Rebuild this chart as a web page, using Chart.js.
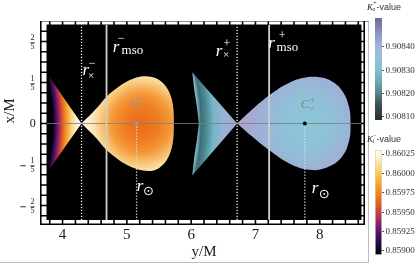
<!DOCTYPE html>
<html>
<head>
<meta charset="utf-8">
<script src="https://cdn.jsdelivr.net/npm/chart.js@4.4.0/dist/chart.umd.min.js"></script>
<style>
html, body { margin: 0; padding: 0; background: #fff; }
#wrap { position: relative; width: 415px; height: 265px; overflow: hidden; }
canvas { position: absolute; }
</style>
</head>
<body>
<div id="wrap">
<canvas id="main" width="370" height="265" style="left:0;top:0"></canvas>
<canvas id="barOuter" width="49" height="130" style="left:366px;top:0"></canvas>
<canvas id="barInner" width="49" height="133" style="left:366px;top:132px"></canvas>
</div>
<script>
// axes
var xRange = [3.75, 8.65];
var yRange = [-0.471, 0.483];
var xTicks = [4, 5, 6, 7, 8];
var yTicks = [-0.4, -0.2, 0, 0.2, 0.4];
var yTickText = ['-2/5', '-1/5', '0', '1/5', '2/5'];

// inner torus (K_i^-): crescent left of the cusp + main lobe
var innerWedgeX = [4.295, 4.04, 3.787, 3.82, 3.853, 3.865, 3.853, 3.82, 3.787, 4.04, 4.295];
var innerWedgeY = [0, 0.115, 0.232, 0.15, 0.07, 0, -0.07, -0.15, -0.227, -0.113, 0];
var innerLobeX = [4.295, 4.529, 4.684, 4.84, 4.995, 5.202, 5.409, 5.565, 5.667, 5.72, 5.731,
                  5.72, 5.667, 5.565, 5.43, 5.25, 5.02, 4.85, 4.684, 4.529, 4.295];
var innerLobeY = [0, 0.074, 0.131, 0.172, 0.204, 0.228, 0.225, 0.196, 0.147, 0.082, 0,
                  -0.082, -0.15, -0.2, -0.228, -0.23, -0.205, -0.172, -0.13, -0.073, 0];

// outer torus (K_o^+)
var outerWedgeX = [6.715, 6.366, 6.017, 6.05, 6.09, 6.12, 6.09, 6.05, 6.017, 6.366, 6.715];
var outerWedgeY = [0, 0.125, 0.25, 0.16, 0.08, 0, -0.08, -0.16, -0.254, -0.127, 0];
var outerLobeX = [6.715, 6.949, 7.212, 7.473, 7.734, 7.997, 8.205, 8.362, 8.457, 8.479,
                  8.457, 8.337, 8.101, 7.84, 7.526, 7.212, 6.949, 6.715];
var outerLobeY = [0, 0.068, 0.136, 0.19, 0.222, 0.226, 0.203, 0.154, 0.08, 0,
                  -0.084, -0.166, -0.216, -0.226, -0.195, -0.13, -0.064, 0];

// special radii [inner, outer]
var rCross = [4.295, 6.715];
var rMso = [4.684, 7.213];
var rCenter = [5.151, 7.768];

// colour bars
var kOuterRange = [0.908086, 0.908524];
var kOuterTicks = [0.9081, 0.9082, 0.9083, 0.9084];
var kInnerRange = [0.858948, 0.860302];
var kInnerTicks = [0.859, 0.85925, 0.8595, 0.85975, 0.86, 0.86025];

var SERIF = '"Liberation Serif", "DejaVu Serif", serif';

function pts(xs, ys) {
    return xs.map(function (x, i) { return {x: x, y: ys[i]}; });
}

function addStops(g, stops) {
    stops.forEach(function (s) { g.addColorStop(s[0], s[1]); });
    return g;
}

// radial shading round a lobe centre
function lobeFill(cx, dx, radius, stops) {
    return function (c) {
        var ch = c.chart;
        if (!ch.chartArea) return 'transparent';
        var px = ch.scales.x.getPixelForValue(cx) + dx;
        var py = ch.scales.y.getPixelForValue(0);
        return addStops(ch.ctx.createRadialGradient(px, py, 0, px, py, radius), stops);
    };
}

// crescent: rings centred far to the left so bands follow the concave edge
function wedgeFill(edgeX, cuspX, stops) {
    return function (c) {
        var ch = c.chart;
        if (!ch.chartArea) return 'transparent';
        var e = ch.scales.x.getPixelForValue(edgeX);
        var k = ch.scales.x.getPixelForValue(cuspX);
        var py = ch.scales.y.getPixelForValue(0);
        var R = 220, cx = e - R;
        return addStops(ch.ctx.createRadialGradient(cx, py, R - 1, cx, py, k - cx), stops);
    };
}

function shape(xs, ys, fillFn, tension) {
    return {
        data: pts(xs, ys), fill: 'shape', backgroundColor: fillFn,
        borderColor: 'rgba(0,0,0,0)', borderWidth: 1, tension: tension, order: 10
    };
}

function vline(x, y0, y1, color, width, dash) {
    return {
        data: [{x: x, y: y0}, {x: x, y: y1}], borderColor: color, borderWidth: width,
        borderDash: dash, fill: false, order: 3
    };
}

var datasets = [
    shape(innerWedgeX, innerWedgeY, wedgeFill(innerWedgeX[5], rCross[0], [
        [0, '#12041e'], [0.1, '#3c0d5c'], [0.2, '#8a2266'], [0.3, '#d24636'], [0.4, '#ee7a1e'],
        [0.52, '#f6aa3a'], [0.66, '#fad684'], [0.82, '#fdf0cc'], [1, '#fffbf2']]), 0),
    shape(innerLobeX, innerLobeY, lobeFill(rCenter[0], 5, 60, [
        [0, '#ea6a1a'], [0.3, '#ef7e22'], [0.5, '#f49a3a'], [0.65, '#f8c270'],
        [0.8, '#fce4b4'], [1, '#fffbf0']]), 0.35),
    shape(outerWedgeX, outerWedgeY, wedgeFill(outerWedgeX[5], rCross[1], [
        [0, '#7ab8c8'], [0.08, '#3e6c74'], [0.22, '#4c8a94'], [0.4, '#74b6c6'],
        [0.65, '#96b4d6'], [1, '#a8a8d2']]), 0),
    shape(outerLobeX, outerLobeY, lobeFill(rCenter[1], 2, 60, [
        [0, '#8ac6d8'], [0.45, '#90c0d8'], [0.75, '#9cb2d6'], [1, '#aaa8d2']]), 0.4),
    Object.assign(vline(0, 0, 0, 'rgba(125,125,125,0.8)', 1.2, []),
        {data: [{x: xRange[0], y: 0}, {x: xRange[1], y: 0}], order: 5}),
    vline(rCross[0], yRange[0], yRange[1], '#f4f4f4', 1.3, [1.2, 1.8]),
    vline(rCross[1], yRange[0], yRange[1], '#f4f4f4', 1.3, [1.2, 1.8]),
    vline(rMso[0], yRange[0], yRange[1], '#cfcfcf', 1.8, []),
    vline(rMso[1], yRange[0], yRange[1], '#cfcfcf', 1.8, []),
    vline(rCenter[0], 0, yRange[0], '#dcdcdc', 1.3, [1.2, 1.8]),
    vline(rCenter[1], 0, yRange[0], '#dcdcdc', 1.3, [1.2, 1.8]),
    {
        data: [{x: rCenter[0], y: 0}, {x: rCenter[1], y: 0}], showLine: false,
        pointRadius: 2, pointBorderWidth: 0, pointBackgroundColor: ['#8a9bb8', '#050505'], order: 1
    }
];

function txt(c, s, x, y, font, color, align, base) {
    c.font = font;
    c.fillStyle = color;
    c.textAlign = align || 'left';
    c.textBaseline = base || 'alphabetic';
    c.fillText(s, x, y);
}

var framePlugin = {
    id: 'frame',
    beforeDraw: function (ch) {
        var a = ch.chartArea, c = ch.ctx;
        c.save();
        c.fillStyle = '#000';
        c.fillRect(a.left, a.top, a.right - a.left, a.bottom - a.top);
        c.restore();
    },
    afterDraw: function (ch) {
        var c = ch.ctx, a = ch.chartArea, X = ch.scales.x, Y = ch.scales.y;
        var i, p;
        c.save();
        // figure border
        c.strokeStyle = '#bdbdbd';
        c.lineWidth = 1;
        c.beginPath();
        c.moveTo(368.5, a.top - 3.5); c.lineTo(368.5, 262.5); c.lineTo(0, 262.5);
        c.stroke();
        // frame
        c.strokeStyle = '#8a8a8a';
        c.lineWidth = 1.2;
        c.beginPath(); c.moveTo(a.left - 6.5, a.top - 3); c.lineTo(368.5, a.top - 3); c.stroke();
        c.strokeStyle = '#000';
        c.lineWidth = 1.6;
        c.beginPath();
        c.moveTo(a.left - 5.7, a.top - 3.5); c.lineTo(a.left - 5.7, a.bottom + 4.2);
        c.lineTo(a.right + 2.7, a.bottom + 4.2); c.lineTo(a.right + 2.7, a.top - 3.5);
        c.stroke();
        // tick marks across the white gap
        c.beginPath();
        for (i = 0; i < 25; i++) {
            p = X.getPixelForValue(3.8 + i * 0.2);
            if (p > a.right) break;
            c.moveTo(p, a.top - 3); c.lineTo(p, a.top + 0.5);
            c.moveTo(p, a.bottom - 0.5); c.lineTo(p, a.bottom + 4.2);
        }
        for (i = 0; i < 19; i++) {
            p = Y.getPixelForValue(-0.45 + i * 0.05);
            c.moveTo(a.left - 5.7, p); c.lineTo(a.left + 0.5, p);
            c.moveTo(a.right - 0.5, p); c.lineTo(a.right + 2.7, p);
        }
        c.stroke();
        // fraction tick labels on the y axis
        yTicks.forEach(function (v, k) {
            var t = Y.getPixelForValue(v), s = yTickText[k], neg = s.charAt(0) === '-';
            var body = neg ? s.slice(1) : s;
            if (body.indexOf('/') < 0) {
                txt(c, body, 32.7, t + 0.5, '12px ' + SERIF, '#1a1a1a', 'center', 'middle');
                return;
            }
            var f = body.split('/');
            txt(c, f[0], 32.5, t - 3.2, '8px ' + SERIF, '#1a1a1a', 'center', 'middle');
            txt(c, f[1], 32.5, t + 5.6, '8px ' + SERIF, '#1a1a1a', 'center', 'middle');
            c.lineWidth = 0.7;
            c.strokeStyle = '#1a1a1a';
            c.beginPath(); c.moveTo(30.3, t + 1.3); c.lineTo(34.8, t + 1.3); c.stroke();
            if (neg) {
                c.lineWidth = 0.9;
                c.beginPath(); c.moveTo(20.3, t + 1.3); c.lineTo(25.8, t + 1.3); c.stroke();
            }
        });
        // y axis title
        c.save();
        c.translate(10.5, 111);
        c.rotate(-Math.PI / 2);
        txt(c, 'x/M', 0, 0, '15px ' + SERIF, '#1a1a1a', 'center', 'middle');
        c.restore();

        // labels on the plot
        var W = '#ffffff', R = 'italic 17px ' + SERIF, lx, by, w;
        lx = X.getPixelForValue(rCross[0]); by = Y.getPixelForValue(0.237);
        txt(c, 'r', lx + 1, by, R, W);
        txt(c, '\u2212', lx + 10.5, by - 11, '12px ' + SERIF, W, 'center', 'middle');
        txt(c, '\u00d7', lx + 9.5, by + 1, '11px ' + SERIF, W, 'center', 'middle');

        lx = X.getPixelForValue(rMso[0]); by = Y.getPixelForValue(0.349);
        txt(c, 'r', lx + 6.3, by, R, W);
        txt(c, '\u2212', lx + 14.5, by - 13, '12px ' + SERIF, W, 'center', 'middle');
        txt(c, 'mso', lx + 15, by + 2, '13px ' + SERIF, W);

        lx = X.getPixelForValue(rCross[1]); by = Y.getPixelForValue(0.329);
        txt(c, 'r', lx - 21.3, by, R, W);
        txt(c, '+', lx - 10.3, by - 12, '12px ' + SERIF, W, 'center', 'middle');
        txt(c, '\u00d7', lx - 11, by - 0.5, '11px ' + SERIF, W, 'center', 'middle');

        lx = X.getPixelForValue(rMso[1]); by = Y.getPixelForValue(0.37);
        txt(c, 'r', lx - 0.8, by, R, W);
        txt(c, '+', lx + 13, by - 12, '12px ' + SERIF, W, 'center', 'middle');
        txt(c, 'mso', lx + 7.5, by + 3.4, '13px ' + SERIF, W);

        lx = X.getPixelForValue(rCenter[0]); by = Y.getPixelForValue(0.08);
        c.font = 'italic 13px ' + SERIF;
        w = c.measureText('C').width;
        txt(c, 'C', lx - 5.7, by, 'italic 13px ' + SERIF, '#8697b8');
        txt(c, '\u2212', lx - 5.7 + w + 2.5, by - 8, '9px ' + SERIF, '#8697b8', 'center', 'middle');
        txt(c, 'i', lx - 5.7 + w + 0.5, by + 1.5, 'italic 8px ' + SERIF, '#8697b8');

        lx = X.getPixelForValue(rCenter[1]); by = Y.getPixelForValue(0.076);
        txt(c, 'C', lx - 4, by, 'italic 13px ' + SERIF, '#8c8078');
        txt(c, '+', lx - 4 + w + 2.8, by - 8.5, '9px ' + SERIF, '#8c8078', 'center', 'middle');
        txt(c, 'o', lx - 4 + w + 0.8, by + 2.5, 'italic 7px ' + SERIF, '#8c8078');

        lx = X.getPixelForValue(rCenter[0]); by = Y.getPixelForValue(-0.329);
        txt(c, 'r', lx + 0.3, by, R, W);
        txt(c, '\u2299', lx + 12, by + 1, '13px "DejaVu Sans", sans-serif', W, 'center', 'middle');

        lx = X.getPixelForValue(rCenter[1]); by = Y.getPixelForValue(-0.339);
        txt(c, 'r', lx + 7, by, R, W);
        txt(c, '\u2299', lx + 19.5, by + 2, '13px "DejaVu Sans", sans-serif', W, 'center', 'middle');
        c.restore();
    }
};

new Chart(document.getElementById('main'), {
    type: 'line',
    data: {datasets: datasets},
    options: {
        responsive: false,
        animation: false,
        devicePixelRatio: 1,
        layout: {padding: {top: 24.5, right: 8.5, left: 0, bottom: 0}},
        elements: {point: {radius: 0}},
        plugins: {legend: {display: false}, tooltip: {enabled: false}},
        scales: {
            x: {
                type: 'linear', min: xRange[0], max: xRange[1],
                grid: {display: false, drawTicks: false}, border: {display: false},
                afterBuildTicks: function (s) { s.ticks = xTicks.map(function (v) { return {value: v}; }); },
                afterFit: function (s) { s.height = 45; },
                ticks: {padding: 6, color: '#1a1a1a', font: {family: SERIF, size: 15},
                        callback: function (v) { return String(v); }},
                title: {display: true, text: 'y/M', color: '#1a1a1a', font: {family: SERIF, size: 15},
                        padding: {top: 0, bottom: 3.5}}
            },
            y: {
                type: 'linear', min: yRange[0], max: yRange[1],
                grid: {display: false, drawTicks: false}, border: {display: false},
                ticks: {display: false},
                afterFit: function (s) { s.width = 46.5; }
            }
        }
    },
    plugins: [framePlugin]
});

// colour bars
function barGradient(stops) {
    return function (c) {
        var a = c.chart.chartArea;
        if (!a) return 'transparent';
        return addStops(c.chart.ctx.createLinearGradient(0, a.bottom, 0, a.top), stops);
    };
}

function barTitle(sub, sup) {
    return {
        id: 'barTitle',
        afterDraw: function (ch) {
            var c = ch.ctx;
            c.save();
            c.font = 'italic 9px ' + SERIF;
            var w = c.measureText('K').width;
            txt(c, 'K', 1, 9.5, 'italic 9px ' + SERIF, '#222');
            txt(c, sup, 1 + w + 0.2, 3.8, '6px ' + SERIF, '#222', 'left', 'middle');
            txt(c, sub, 1 + w - 0.6, 11, 'italic 5.5px ' + SERIF, '#222');
            txt(c, '-value', 1 + w + 3.6, 9.5, '9px "Liberation Sans", Arial, sans-serif', '#333');
            c.restore();
        }
    };
}

function colorBar(id, range, ticks, stops, border, sub, sup) {
    return new Chart(document.getElementById(id), {
        type: 'bar',
        data: {
            labels: [''],
            datasets: [{
                data: [range], backgroundColor: barGradient(stops),
                borderColor: border || 'rgba(0,0,0,0)', borderWidth: border ? 1 : 0,
                borderSkipped: false, barPercentage: 1, categoryPercentage: 1
            }]
        },
        options: {
            responsive: false,
            animation: false,
            devicePixelRatio: 1,
            layout: {padding: {top: 18, bottom: 10, left: 9, right: 0}},
            plugins: {legend: {display: false}, tooltip: {enabled: false}},
            scales: {
                x: {display: false},
                y: {
                    position: 'right', min: range[0], max: range[1],
                    grid: {display: true, drawOnChartArea: false, drawTicks: true, tickLength: 2, color: '#555'},
                    border: {display: false},
                    afterBuildTicks: function (s) { s.ticks = ticks.map(function (v) { return {value: v}; }); },
                    afterFit: function (s) { s.width = 33; },
                    ticks: {padding: 1.5, color: '#333', font: {family: SERIF, size: 9},
                            callback: function (v) { return Number(v).toFixed(5); }}
                }
            }
        },
        plugins: [barTitle(sub, sup)]
    });
}

colorBar('barOuter', kOuterRange, kOuterTicks, [
    [0, '#283030'], [0.03, '#2c3636'], [0.15, '#3a5050'], [0.26, '#56848a'], [0.38, '#6caab4'],
    [0.49, '#80c0cc'], [0.6, '#94c0d8'], [0.72, '#a6b4dc'], [0.85, '#8e92c4'], [1, '#6c6c96']
], null, 'o', '+');

colorBar('barInner', kInnerRange, kInnerTicks, [
    [0, '#000004'], [0.04, '#06031a'], [0.13, '#2a0b50'], [0.223, '#5c1270'], [0.31, '#8e2468'],
    [0.408, '#c8403e'], [0.5, '#e8621c'], [0.592, '#f5841a'], [0.68, '#f8a82a'], [0.776, '#f9c850'],
    [0.87, '#fbe49a'], [0.961, '#fff8e0'], [1, '#fffcf0']
], '#cfcfcf', 'i', '\u2212');
</script>
</body>
</html>
